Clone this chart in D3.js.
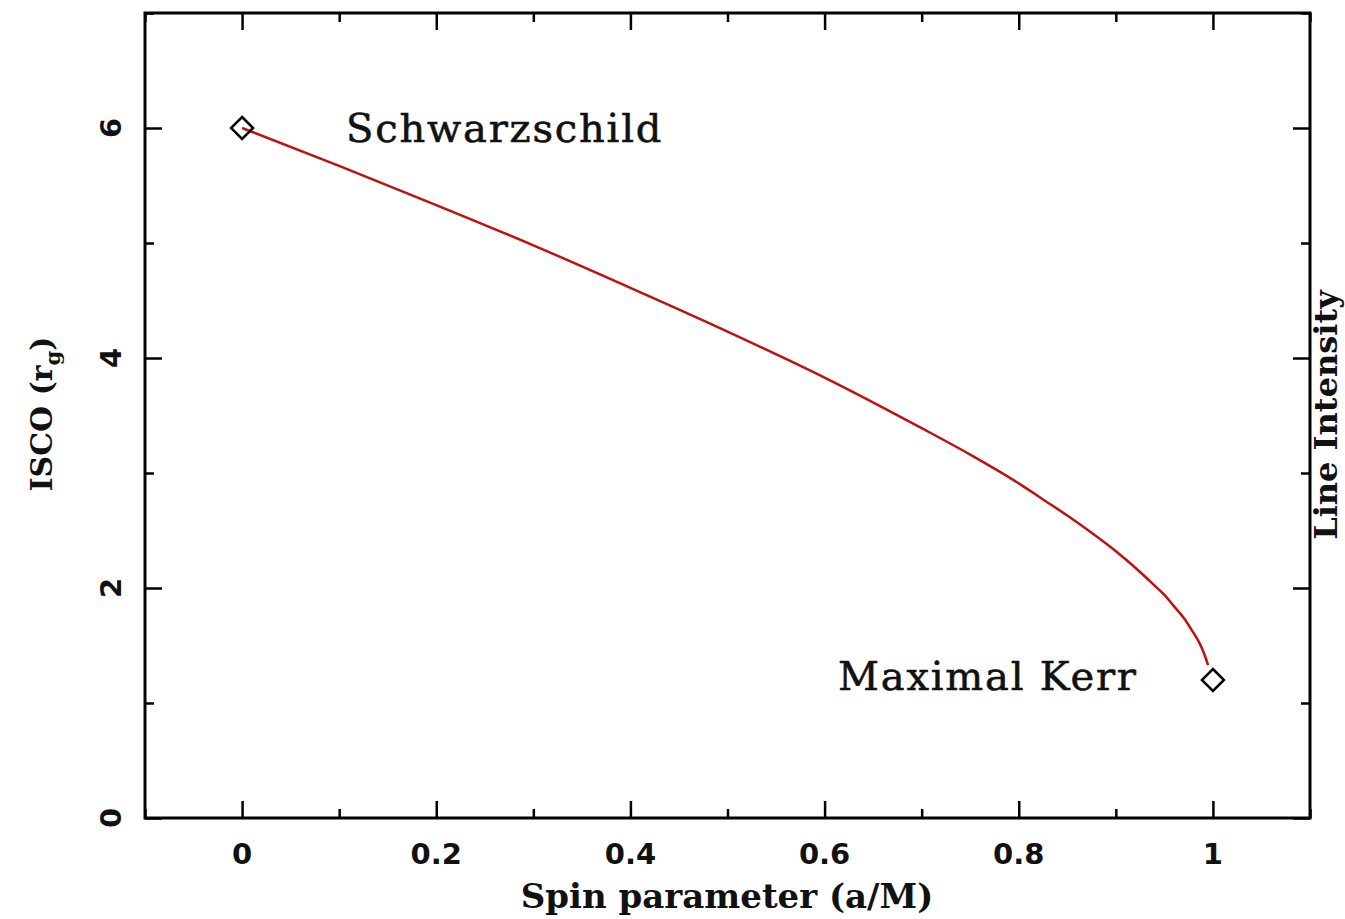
<!DOCTYPE html>
<html><head><meta charset="utf-8">
<script src="https://cdn.jsdelivr.net/npm/d3@7"></script>
<style>html,body{margin:0;padding:0;background:#fff;}svg{display:block;}</style>
</head><body>
<svg id="chart" width="1345" height="919"></svg>
<script>
const spin = [0, 0.1, 0.2, 0.3, 0.4, 0.5, 0.6, 0.7, 0.75, 0.8, 0.825, 0.85, 0.875, 0.9, 0.91, 0.93, 0.94, 0.95, 0.96, 0.97, 0.98, 0.985, 0.99, 0.995];
const isco = [6.0, 5.67, 5.33, 4.98, 4.61, 4.23, 3.83, 3.39, 3.16, 2.91, 2.77, 2.63, 2.48, 2.32, 2.25, 2.10, 2.02, 1.94, 1.84, 1.74, 1.61, 1.54, 1.45, 1.33];
const markerNames = ["Schwarzschild", "Maximal Kerr"];
const markerSpin = [0, 1];
const markerIsco = [6.0, 1.2];
const xMajor = [0, 0.2, 0.4, 0.6, 0.8, 1];
const xMinor = [-0.1, 0.1, 0.3, 0.5, 0.7, 0.9, 1.1];
const yMajor = [0, 2, 4, 6];
const yMinor = [1, 3, 5, 7];

const svg = d3.select("#chart");
const L = 145, R = 1310, T = 13, B = 818;
const x = d3.scaleLinear().domain([-0.1, 1.1]).range([L, R]);
const y = d3.scaleLinear().domain([0, 7]).range([B, T]);

function axis(gen, transform, vals, size) {
  const g = svg.append("g").attr("transform", transform)
    .call(gen.tickValues(vals).tickSize(size).tickSizeOuter(0).tickFormat(""));
  g.select(".domain").remove();
  g.selectAll("line").attr("stroke", "#000").attr("stroke-width", 2.5);
  return g;
}
// ticks (inward)
axis(d3.axisTop(x), `translate(0,${B})`, xMajor, 17);
axis(d3.axisTop(x), `translate(0,${B})`, xMinor, 9);
axis(d3.axisBottom(x), `translate(0,${T})`, xMajor, 17);
axis(d3.axisBottom(x), `translate(0,${T})`, xMinor, 9);
axis(d3.axisRight(y), `translate(${L},0)`, yMajor, 17);
axis(d3.axisRight(y), `translate(${L},0)`, yMinor, 9);
axis(d3.axisLeft(y), `translate(${R},0)`, yMajor, 17);
axis(d3.axisLeft(y), `translate(${R},0)`, yMinor, 9);

// frame
svg.append("rect").attr("x", L).attr("y", T).attr("width", R - L).attr("height", B - T)
  .attr("fill", "none").attr("stroke", "#000").attr("stroke-width", 3);

// tick labels
const tickFont = "'DejaVu Sans', sans-serif";
svg.append("g").selectAll("text").data(xMajor).join("text")
  .attr("x", d => x(d)).attr("y", 864)
  .attr("text-anchor", "middle").attr("font-family", tickFont).attr("font-size", 29)
  .attr("font-weight", "bold").attr("fill", "#111").text(d => d3.format("")(d));
svg.append("g").selectAll("text").data(yMajor).join("text")
  .attr("transform", d => `translate(121,${y(d)}) rotate(-90)`)
  .attr("text-anchor", "middle").attr("font-family", tickFont).attr("font-size", 29)
  .attr("font-weight", "bold").attr("fill", "#111").text(d => d);

// axis titles
const serif = "'DejaVu Serif', serif";
svg.append("text").attr("x", 727).attr("y", 908).attr("text-anchor", "middle")
  .attr("font-family", serif).attr("font-size", 34).attr("font-weight", "bold").attr("fill", "#111")
  .text("Spin parameter (a/M)");
const yt = svg.append("text").attr("transform", "translate(52,414) rotate(-90)")
  .attr("text-anchor", "middle").attr("font-family", serif).attr("font-size", 30)
  .attr("font-weight", "bold").attr("fill", "#111");
yt.append("tspan").text("ISCO (r");
yt.append("tspan").attr("font-size", 21).attr("dy", 8).text("g");
yt.append("tspan").attr("dy", -8).text(")");
svg.append("text").attr("transform", "translate(1337,415) rotate(-90)")
  .attr("text-anchor", "middle").attr("font-family", serif).attr("font-size", 32)
  .attr("font-weight", "bold").attr("fill", "#111").text("Line Intensity");

// curve
const pts = spin.map((s, i) => [s, isco[i]]);
svg.append("path").datum(pts)
  .attr("d", d3.line().x(d => x(d[0])).y(d => y(d[1])).curve(d3.curveMonotoneX))
  .attr("fill", "none").attr("stroke", "#c01010").attr("stroke-width", 2.5);

// markers
const mk = markerSpin.map((s, i) => ({s, r: markerIsco[i], name: markerNames[i]}));
svg.append("g").selectAll("path").data(mk).join("path")
  .attr("transform", d => `translate(${x(d.s)},${y(d.r)})`)
  .attr("d", "M0,-11L11,0L0,11L-11,0Z")
  .attr("fill", "none").attr("stroke", "#000").attr("stroke-width", 2.5);

// annotations
svg.append("text").attr("x", 346).attr("y", 142).attr("font-family", serif).attr("font-size", 40)
  .attr("letter-spacing", 1.8).attr("stroke", "#111").attr("stroke-width", 0.6)
  .attr("fill", "#111").text(markerNames[0]);
svg.append("text").attr("x", 838).attr("y", 690).attr("font-family", serif).attr("font-size", 40)
  .attr("letter-spacing", 1.8).attr("stroke", "#111").attr("stroke-width", 0.6)
  .attr("fill", "#111").text(markerNames[1]);
</script>
</body></html>
